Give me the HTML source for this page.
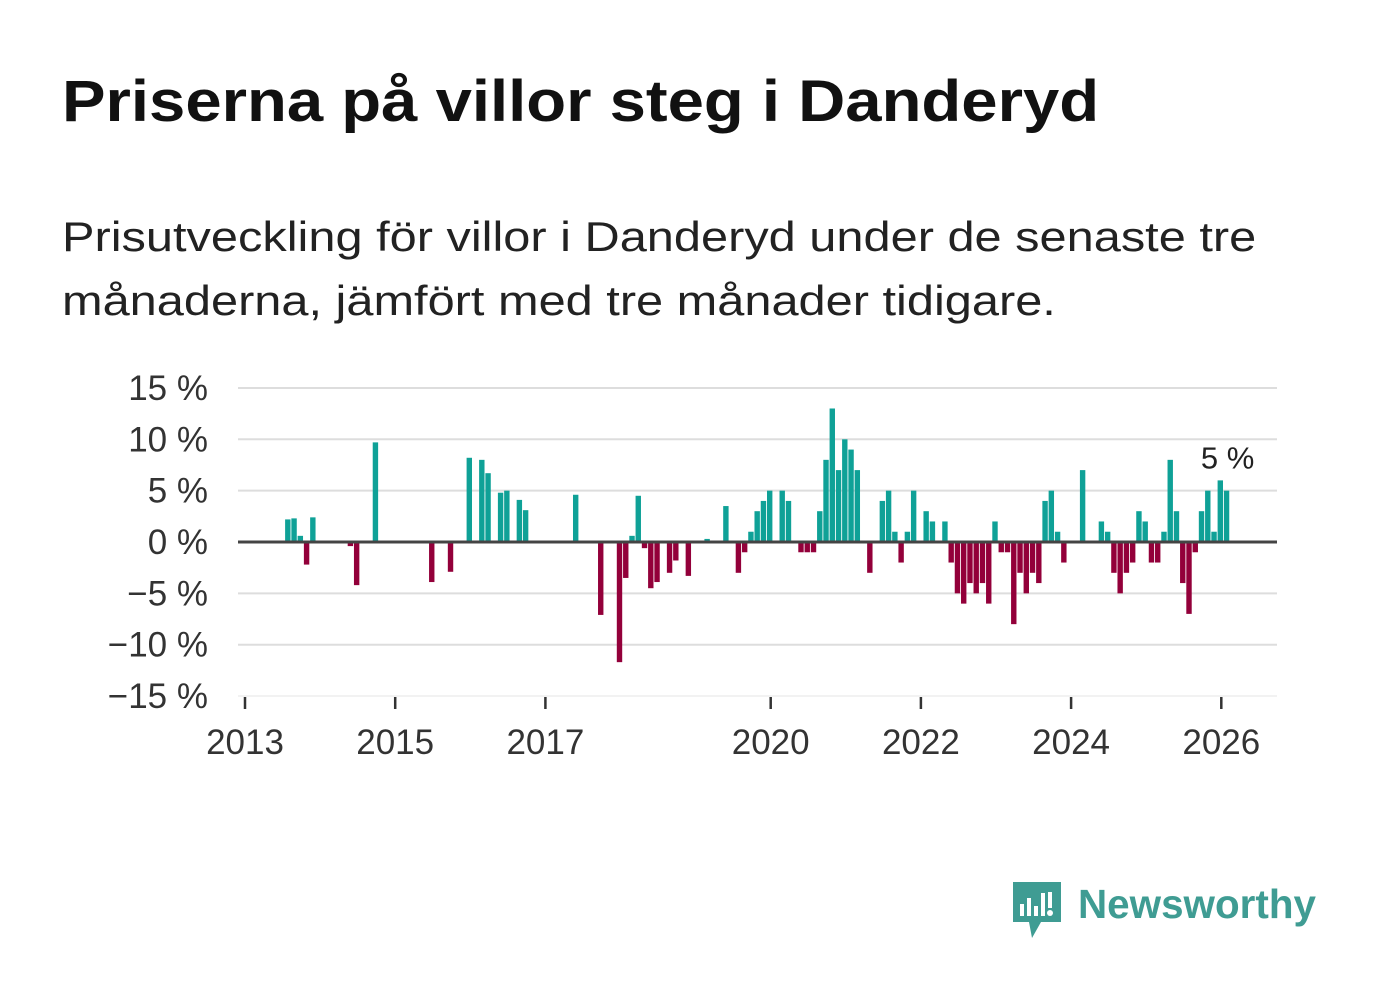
<!DOCTYPE html>
<html><head><meta charset="utf-8"><style>
body{margin:0;width:1382px;height:999px;background:#fff;font-family:"Liberation Sans","DejaVu Sans",sans-serif;overflow:hidden;position:relative}
h1{position:absolute;left:62px;top:68px;margin:0;font-size:58px;font-weight:bold;color:#111;white-space:nowrap;transform:scaleX(1.125);transform-origin:0 0}
.sub{position:absolute;left:62px;top:205px;margin:0;font-size:42px;line-height:64px;color:#222;white-space:nowrap;transform:scaleX(1.16);transform-origin:0 0}
svg{position:absolute;left:0;top:0}
</style></head><body>
<h1>Priserna på villor steg i Danderyd</h1>
<p class="sub">Prisutveckling för villor i Danderyd under de senaste tre<br>månaderna, jämfört med tre månader tidigare.</p>
<svg id="chart" width="1382" height="999"></svg>
<script>
const monthIdx=[7,8,9,10,11,17,18,21,30,33,36,38,39,41,42,44,45,53,57,60,61,62,63,64,65,66,68,69,71,74,77,79,80,81,82,83,84,86,87,89,90,91,92,93,94,95,96,97,98,100,102,103,104,105,106,107,109,110,112,113,114,115,116,117,118,119,120,121,122,123,124,125,126,127,128,129,130,131,134,137,138,139,140,141,142,143,144,145,146,147,148,149,150,151,152,153,154,155,156,157];
const values=[2.2,2.3,0.6,-2.2,2.4,-0.4,-4.2,9.7,-3.9,-2.9,8.2,8.0,6.7,4.8,5.0,4.1,3.1,4.6,-7.1,-11.7,-3.5,0.6,4.5,-0.6,-4.5,-3.9,-3.0,-1.8,-3.3,0.3,3.5,-3.0,-1.0,1.0,3.0,4.0,5.0,5.0,4.0,-1,-1,-1,3,8,13,7,10,9,7,-3,4,5,1,-2,1,5,3,2,2,-2,-5,-6,-4,-5,-4,-6,2,-1,-1,-8,-3,-5,-3,-4,4,5,1,-2,7,2,1,-3,-5,-3,-2,3,2,-2,-2,1,8,3,-4,-7,-1,3,5,1,6,5];
const yTicks=[15,10,5,0,-5,-10,-15];
const yTickLabels=["15 %","10 %","5 %","0 %","\u22125 %","\u221210 %","\u221215 %"];
const xTickYears=[2013,2015,2017,2020,2022,2024,2026];
const lastLabel="5 %";
const NS="http://www.w3.org/2000/svg";
const svg=document.getElementById('chart');
const y=v=>542-v*10.27;
const xYear=yr=>245+(yr-2013)*75.1;
const xMonth=m=>xYear(2013+m/12)-1;
function mk(t,a){const e=document.createElementNS(NS,t);for(const k in a)e.setAttribute(k,a[k]);svg.appendChild(e);return e;}
yTicks.forEach((t,i)=>{
 if(t!==0&&t!==-15){const g=mk('line',{x1:238,x2:1277,y1:y(t),y2:y(t),stroke:'#ddd','stroke-width':2});
 
 }
 const l=mk('text',{x:208,y:y(t)+12,'text-anchor':'end','font-size':35,fill:'#333','font-family':'Liberation Sans, sans-serif'});
 l.textContent=yTickLabels[i];
 
 
});
const bl=mk('line',{x1:238,x2:1277,y1:y(-15),y2:y(-15),stroke:'#e6e6e6','stroke-width':1});


xTickYears.forEach(yr=>{
 const tk=mk('line',{x1:xYear(yr),x2:xYear(yr),y1:697,y2:709,stroke:'#333','stroke-width':2.5});
 
 
 const l=mk('text',{x:xYear(yr),y:754,'text-anchor':'middle','font-size':35,fill:'#333','font-family':'Liberation Sans, sans-serif'});
 l.textContent=yr;
 
 
});
monthIdx.forEach((m,i)=>{
 const v=values[i];const cx=xMonth(m);
 const r=mk('rect',{x:cx-2.7,width:5.4,y:Math.min(y(v),y(0)),height:Math.abs(y(v)-y(0)),fill:v>=0?'#0fa197':'#93003a'});
 
 
});
const zl=mk('line',{x1:238,x2:1277,y1:y(0),y2:y(0),stroke:'#444','stroke-width':3});


const last=monthIdx.length-1;
const ll=mk('text',{x:xMonth(monthIdx[last])+1,y:y(values[last])-22,'text-anchor':'middle','font-size':31,fill:'#222','font-family':'Liberation Sans, sans-serif'});
ll.textContent=lastLabel;


</script>
<svg width="1382" height="999" style="pointer-events:none">
<path d="M1013 882 h48 v40 h-20 l-9 16 l-3 -16 h-16 z" fill="#3f9c93"/>
<rect x="1020" y="904" width="4" height="12" fill="#fff"/><rect x="1027" y="898" width="4" height="18" fill="#fff"/><rect x="1034" y="906" width="4" height="10" fill="#fff"/><rect x="1041" y="893" width="4" height="23" fill="#fff"/><circle cx="1050" cy="913" r="3" fill="#fff"/><rect x="1048" y="892" width="4" height="16" fill="#fff"/>
<text x="1078" y="918" font-size="41" font-weight="bold" fill="#3f9c93" font-family="Liberation Sans, sans-serif" textLength="238" lengthAdjust="spacingAndGlyphs">Newsworthy</text>
</svg>
</body></html>
